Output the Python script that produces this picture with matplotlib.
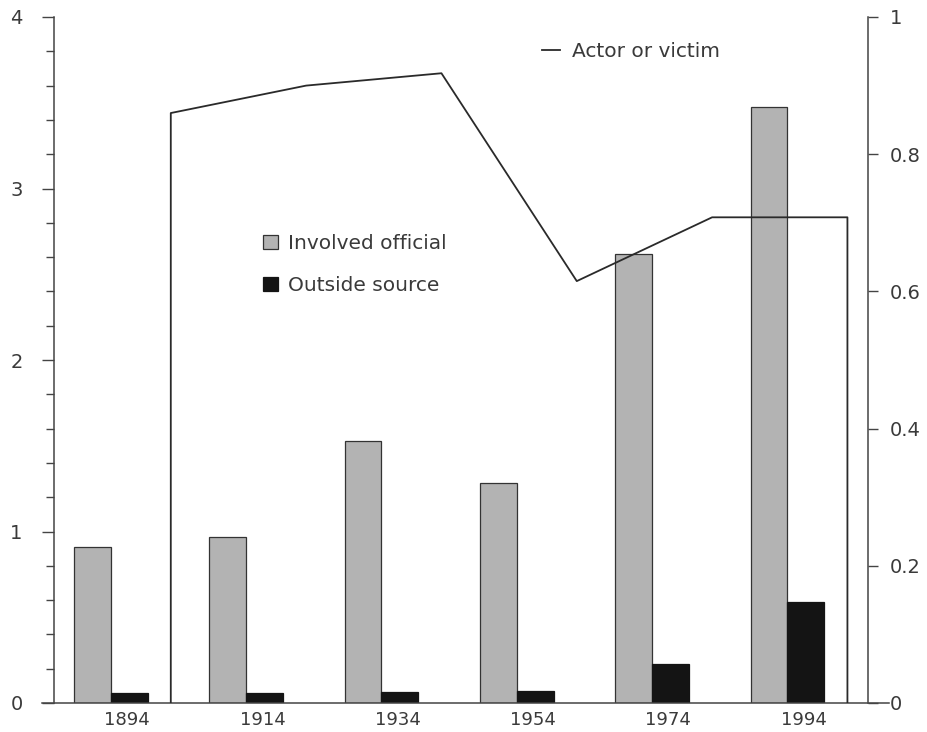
import matplotlib
matplotlib.use("Agg")
import matplotlib.pyplot as plt
import numpy as np
from matplotlib.ticker import MultipleLocator

years = ["1894", "1914", "1934", "1954", "1974", "1994"]
involved_official = [0.91, 0.97, 1.53, 1.28, 2.62, 3.475]
outside_source = [0.06, 0.06, 0.065, 0.07, 0.23, 0.59]
actor_or_victim = [0.86, 0.90, 0.918, 0.615, 0.708, 0.708]

plt.rcParams['font.family'] = ['DejaVu Sans']
txt = '#3a3a3a'

fig = plt.figure(figsize=(9.28, 7.32), dpi=100)
ax = fig.add_axes([54/928, 1 - 703/732, (868-54)/928, (703-17)/732])
ax2 = ax.twinx()

idx = np.arange(len(years))
w = 0.272
ax.bar(idx - w/2, involved_official, width=w, color='#b3b3b3', edgecolor='#333333', linewidth=0.9, label='Involved official', zorder=3)
ax.bar(idx + w/2, outside_source, width=w, color='#141414', edgecolor='#141414', linewidth=0.9, label='Outside source', zorder=3)

lx = idx + 0.443
xs = np.concatenate([[lx[0]], lx, [lx[-1]]])
ys = np.concatenate([[0], actor_or_victim, [0]])
ax2.plot(xs, ys, color='#2a2a2a', linewidth=1.3, label='Actor or victim')

ax.set_xlim(-0.42, 5.595)
ax.set_ylim(0, 4)
ax2.set_ylim(0, 1)

ax.yaxis.set_major_locator(MultipleLocator(1))
ax.yaxis.set_minor_locator(MultipleLocator(0.2))
ax.tick_params(axis='y', which='major', direction='out', length=8.6, width=1, color='#444', labelsize=14, labelcolor=txt, pad=14)
ax.tick_params(axis='y', which='minor', direction='out', length=5.8, width=1, color='#444')
ax.set_xticks(idx + 0.12)
ax.set_xticklabels(years)
ax.tick_params(axis='x', length=0, labelsize=13, labelcolor=txt, pad=6)

ax2.set_yticks([0, 0.2, 0.4, 0.6, 0.8, 1.0])
ax2.set_yticklabels(['0', '0.2', '0.4', '0.6', '0.8', '1'])
ax2.tick_params(axis='y', direction='out', length=7, width=1, color='#444', labelsize=14, labelcolor=txt, pad=9)

for a in (ax, ax2):
    a.spines['top'].set_visible(False)
    a.spines['bottom'].set_visible(False)
ax2.spines['left'].set_visible(False)
ax.spines['right'].set_visible(False)
ax.spines['left'].set_color('#444')
ax2.spines['right'].set_color('#444')
ax.spines['left'].set_linewidth(1.1)
ax2.spines['right'].set_linewidth(1.1)

ax.plot([-0.015, 1.026], [0, 0], transform=ax.transAxes, color='#444', linewidth=1.1, clip_on=False, zorder=4)

leg1 = ax.legend(loc='upper left', bbox_to_anchor=(0.235, 0.71), frameon=False, fontsize=14.5,
                 handlelength=0.7, handleheight=0.7, handletextpad=0.5, labelspacing=1.15, labelcolor=txt)
ax2.legend(loc='upper left', bbox_to_anchor=(0.577, 0.99), frameon=False, fontsize=14.5,
           handlelength=0.9, handletextpad=0.6, labelcolor=txt)

fig.savefig('out.png', dpi=100)
